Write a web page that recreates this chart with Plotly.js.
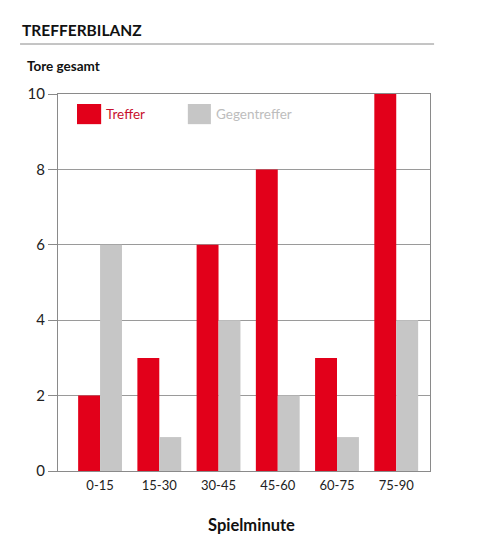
<!DOCTYPE html>
<html>
<head>
<meta charset="utf-8">
<script src="https://cdn.plot.ly/plotly-3.0.1.min.js"></script>
<style>
  html, body { margin: 0; padding: 0; background: #ffffff; }
  #chart { width: 488px; height: 552px; }
</style>
</head>
<body>
<div id="chart"></div>
<script>
// Spielminuten-Intervalle und Tore
const minutes = ['0-15', '15-30', '30-45', '45-60', '60-75', '75-90'];
const treffer = [2, 3, 6, 8, 3, 10];
const gegentreffer = [6, 0.9, 4, 2, 0.9, 4];
const seriesNames = ['Treffer', 'Gegentreffer'];
const yTicks = [0, 2, 4, 6, 8, 10];

const RED = '#e2001a';
const GREY = '#c6c6c6';
const FONT = 'Lato, "Open Sans", sans-serif';

const data = [
  { x: minutes, y: treffer, name: seriesNames[0], type: 'bar', marker: { color: RED }, hoverinfo: 'x+y' },
  { x: minutes, y: gegentreffer, name: seriesNames[1], type: 'bar', marker: { color: GREY }, hoverinfo: 'x+y' }
];

const layout = {
  width: 488, height: 552,
  barmode: 'group', bargap: 0.26, bargroupgap: 0,
  showlegend: false,
  paper_bgcolor: '#ffffff', plot_bgcolor: '#ffffff',
  font: { family: FONT, size: 13, color: '#222222' },
  margin: { l: 58, r: 58, t: 94, b: 81 },
  title: {
    text: '<b>TREFFERBILANZ</b>',
    font: { family: FONT, size: 15.5, color: '#111111' },
    x: 22 / 488, xanchor: 'left', xref: 'container',
    y: 1 - 31 / 552, yanchor: 'middle', yref: 'container'
  },
  xaxis: {
    type: 'category',
    range: [-0.71, 5.57],
    showgrid: false, zeroline: false,
    showline: true, mirror: true, linecolor: '#8a8a8a', linewidth: 1,
    ticks: '', ticklabelstandoff: 2,
    tickfont: { family: FONT, size: 13, color: '#222222' },
    fixedrange: true
  },
  yaxis: {
    range: [0, 10],
    tickvals: yTicks,
    showgrid: true, gridcolor: '#9a9a9a', gridwidth: 1, zeroline: false,
    showline: true, mirror: true, linecolor: '#8a8a8a', linewidth: 1,
    ticks: 'outside', ticklen: 9, tickcolor: '#8a8a8a',
    tickfont: { family: FONT, size: 15, color: '#222222' },
    fixedrange: true
  },
  shapes: [
    // Linie unter dem Titel
    { type: 'line', xref: 'paper', yref: 'paper', x0: -0.102, x1: 1.011, y0: 1.1326, y1: 1.1326,
      line: { color: '#8a8a8a', width: 1 } },
    // Legendenfelder
    { type: 'rect', xref: 'paper', yref: 'paper', x0: 0.051, x1: 0.116, y0: 0.920, y1: 0.9735,
      fillcolor: RED, line: { width: 0 } },
    { type: 'rect', xref: 'paper', yref: 'paper', x0: 0.349, x1: 0.411, y0: 0.920, y1: 0.9735,
      fillcolor: GREY, line: { width: 0 } }
  ],
  annotations: [
    { text: '<b>Tore gesamt</b>', xref: 'paper', yref: 'paper', x: -0.09, y: 1.074,
      xanchor: 'left', yanchor: 'middle', showarrow: false, font: { family: FONT, size: 13.5, color: '#111111' } },
    { text: '<b>Spielminute</b>', xref: 'paper', yref: 'paper', x: 0.5215, y: -0.1432,
      xanchor: 'center', yanchor: 'middle', showarrow: false, font: { family: FONT, size: 16.5, color: '#111111' } },
    { text: seriesNames[0], xref: 'paper', yref: 'paper', x: 0.124, y: 0.947,
      xanchor: 'left', yanchor: 'middle', showarrow: false, font: { family: FONT, size: 13.5, color: '#c8102e' } },
    { text: seriesNames[1], xref: 'paper', yref: 'paper', x: 0.419, y: 0.947,
      xanchor: 'left', yanchor: 'middle', showarrow: false, font: { family: FONT, size: 13.5, color: '#bdbdbd' } }
  ]
};

Plotly.newPlot('chart', data, layout, { displayModeBar: false, staticPlot: true });
</script>
</body>
</html>
